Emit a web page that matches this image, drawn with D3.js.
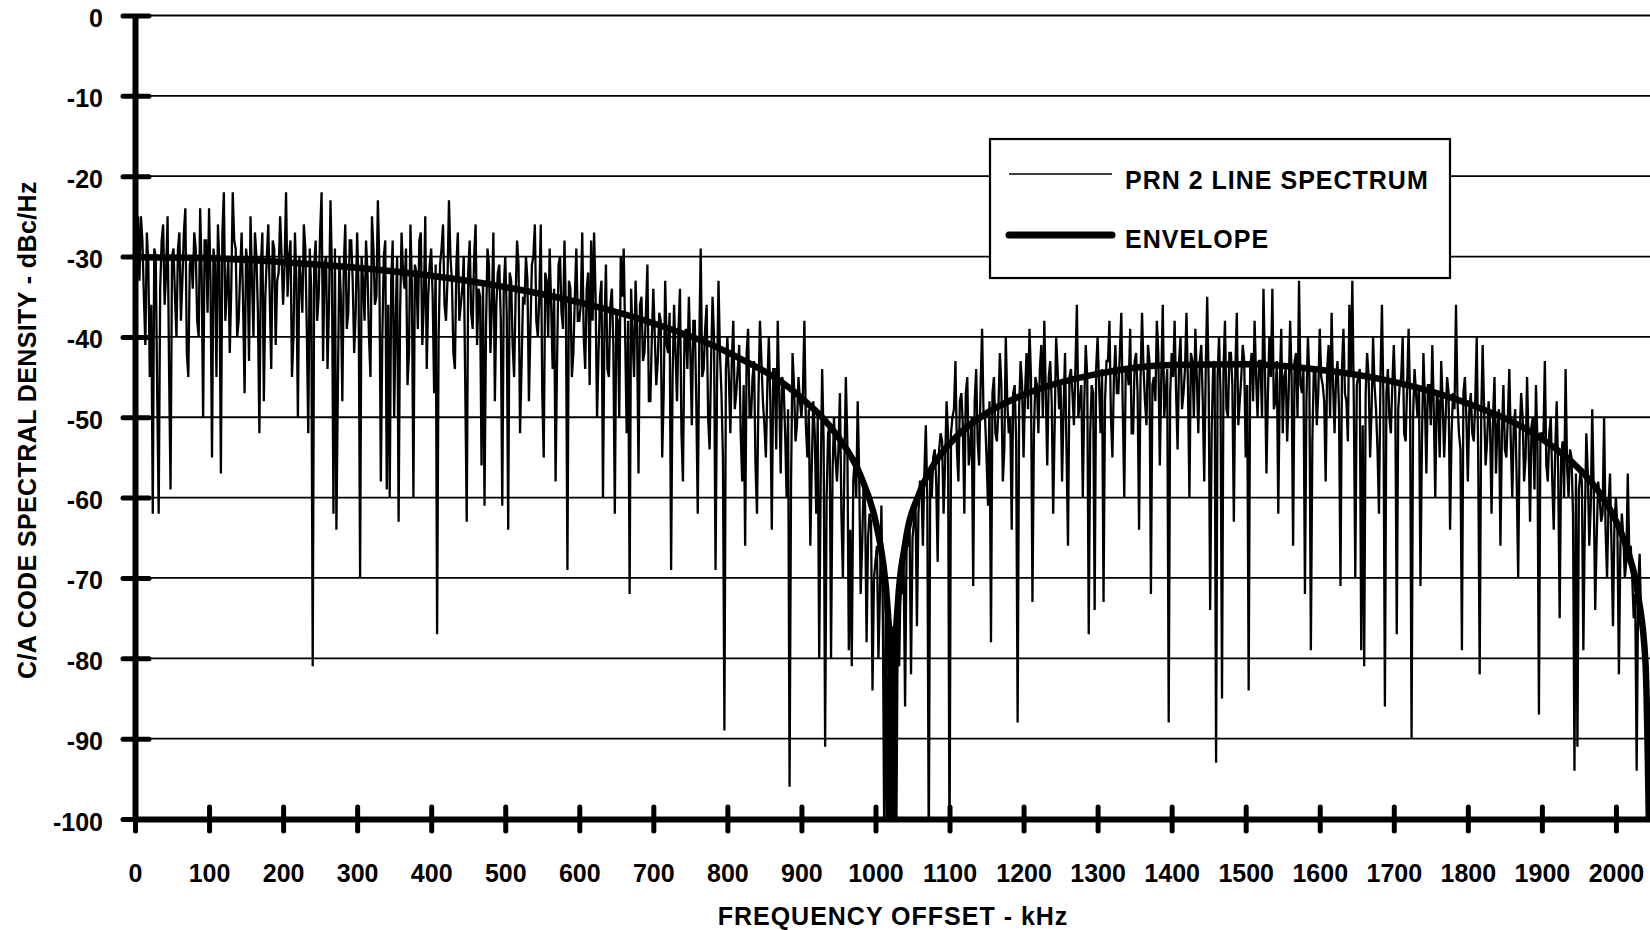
<!DOCTYPE html>
<html>
<head>
<meta charset="utf-8">
<script src="https://cdn.jsdelivr.net/npm/d3@7"></script>
<style>
body{margin:0;background:#fff;}
svg{display:block;font-family:"Liberation Sans",Arial,sans-serif;font-weight:bold;}
</style>
</head>
<body>
<script>
var yTicks=[0,-10,-20,-30,-40,-50,-60,-70,-80,-90,-100];
var xTicks=[0,100,200,300,400,500,600,700,800,900,1000,1100,1200,1300,1400,1500,1600,1700,1800,1900,2000];

// line spectrum (dB). lines at 0,4,8.. kHz, main lobe 0..1020
var lineStep=4;
var mainLobeDb=[
-44,-25,-25,-35,-27,-45,-62,-30,-62,-28,-36,-25,-59,-29,-40,-27,-33,-24,-45,-30,-27,-38,-24,-50,-28,
-24,-55,-31,-26,-57,-22,-34,-42,-22,-29,-38,-27,-47,-31,-25,-40,-30,-52,-27,-35,-26,-44,-29,-33,-25,
-36,-22,-30,-45,-27,-50,-33,-26,-39,-29,-81,-28,-35,-22,-31,-44,-23,-62,-64,-30,-48,-26,-37,-28,-42,
-27,-70,-33,-28,-40,-25,-36,-23,-58,-30,-59,-60,-28,-38,-63,-27,-34,-46,-26,-60,-32,-28,-41,-25,-35,
-29,-47,-77,-31,-26,-38,-23,-33,-44,-27,-36,-30,-63,-28,-39,-26,-34,-56,-61,-29,-42,-27,-36,-31,-61,
-30,-64,-33,-45,-28,-52,-35,-30,-48,-31,-26,-40,-26,-55,-33,-29,-44,-58,-31,-37,-28,-69,-34,-42,-29,
-38,-27,-44,-32,-28,-27,-50,-35,-60,-31,-45,-34,-62,-38,-30,-29,-52,-72,-40,-33,-57,-35,-42,-31,-48,
-34,-46,-37,-55,-33,-42,-69,-36,-48,-34,-58,-39,-35,-51,-38,-62,-29,-44,-36,-54,-35,-69,-33,-47,-89,
-40,-52,-38,-47,-41,-58,-66,-39,-50,-43,-62,-38,-48,-55,-40,-64,-44,-38,-57,-46,-60,-96,-42,-53,-45,
-50,-38,-55,-66,-48,-62,-80,-44,-91,-52,-80,-50,-58,-47,-70,-45,-79,-81,-55,-48,-72,-58,-78,-62,-84,
-68,-80,-61,-105,-105,-105];
// side lobe 1024..2044 kHz
var sideLobeDb=[
-105,-105,-81,-72,-86,-66,-82,-63,-76,-58,-66,-51,-105,-60,-54,-68,-52,-62,-48,
-105,-50,-43,-58,-47,-62,-45,-54,-71,-44,-56,-39,-50,-61,-78,-45,-53,-42,-58,-40,-52,-64,-46,-88,-43,
-55,-42,-39,-73,-45,-52,-41,-38,-56,-43,-62,-40,-49,-58,-42,-66,-44,-51,-36,-48,-60,-41,-77,-46,-74,
-40,-52,-73,-43,-38,-55,-41,-47,-37,-60,-44,-39,-52,-42,-64,-37,-48,-41,-72,-45,-38,-56,-36,-47,-88,
-42,-38,-54,-40,-47,-37,-60,-43,-39,-52,-41,-58,-35,-74,-44,-93,-40,-85,-38,-50,-42,-63,-37,-48,-41,
-55,-84,-42,-38,-50,-43,-34,-57,-40,-34,-48,-62,-39,-45,-53,-38,-66,-42,-33,-47,-72,-40,-79,-44,-51,
-39,-46,-58,-41,-37,-52,-43,-71,-39,-48,-36,-33,-70,-45,-79,-81,-42,-55,-40,-49,-62,-36,-86,-44,-52,
-41,-77,-46,-40,-53,-39,-90,-44,-50,-71,-42,-57,-46,-41,-60,-48,-43,-55,-45,-64,-47,-36,-52,-79,-45,
-58,-47,-53,-40,-82,-41,-56,-48,-62,-45,-51,-66,-46,-55,-44,-60,-49,-70,-47,-58,-45,-63,-50,-46,-87,
-52,-43,-58,-50,-64,-48,-75,-53,-44,-60,-55,-94,-91,-57,-79,-52,-66,-49,-74,-58,-63,-50,-70,-57,-76,
-60,-82,-62,-70,-57,-66,-75,-94,-67,-78,-85,-105];
// lines in between, at 2,6,10.. kHz
var mainLobeMidDb=[
-30,-33,-28,-41,-31,-36,-29,-47,-34,-26,-32,-44,-30,-35,-29,-38,-27,-42,-31,-34,-29,-40,-32,-28,-37,
-33,-29,-45,-31,-27,-38,-30,-34,-28,-40,-32,-36,-29,-43,-33,-27,-37,-31,-48,-30,-35,-28,-41,-32,-30,
-31,-35,-28,-40,-33,-30,-37,-29,-52,-34,-31,-38,-27,-43,-30,-36,-32,-29,-46,-35,-31,-39,-28,-33,-37,
-34,-30,-38,-32,-45,-29,-35,-31,-40,-28,-36,-33,-50,-30,-37,-32,-29,-42,-34,-31,-39,-27,-36,-44,-31,
-35,-31,-40,-29,-36,-33,-30,-42,-31,-38,-34,-46,-32,-37,-30,-41,-35,-33,-39,-31,-36,-48,-32,-38,-34,
-37,-32,-41,-35,-31,-44,-36,-33,-39,-30,-38,-35,-47,-32,-40,-36,-34,-43,-30,-39,-37,-33,-45,-35,-38,
-36,-40,-34,-46,-38,-35,-42,-33,-39,-44,-36,-41,-37,-50,-35,-40,-38,-34,-45,-39,-36,-43,-37,-48,-40,
-40,-43,-38,-47,-41,-37,-45,-42,-39,-52,-40,-44,-42,-38,-48,-41,-45,-39,-50,-43,-40,-46,-42,-55,-44,
-45,-43,-49,-44,-52,-46,-42,-50,-45,-56,-47,-43,-51,-46,-48,-44,-54,-47,-45,-52,-49,-58,-46,-51,-48,
-47,-51,-49,-56,-52,-50,-58,-53,-60,-51,-57,-55,-54,-62,-56,-53,-64,-58,-60,-57,-66,-61,-65,-63,-70,
-66,-72,-75,-70,-82,-76];
var sideLobeMidDb=[
-80,-76,-70,-68,-66,-63,-65,-60,-62,-58,-57,-60,-56,-55,-58,-54,-53,-56,-52,
-52,-49,-54,-48,-51,-47,-56,-50,-48,-53,-46,-50,-55,-48,-47,-52,-49,-46,-54,-48,-50,-47,-53,-49,-46,
-47,-49,-45,-52,-46,-44,-50,-47,-45,-48,-51,-44,-46,-49,-54,-45,-47,-44,-50,-46,-48,-45,-52,-47,-44,
-46,-44,-48,-43,-50,-45,-47,-42,-49,-44,-46,-52,-43,-47,-45,-44,-51,-43,-46,-48,-42,-45,-50,-44,-47,
-45,-47,-43,-49,-44,-46,-42,-50,-45,-43,-48,-44,-46,-52,-43,-45,-47,-44,-49,-42,-46,-44,-51,-45,-43,
-46,-44,-48,-45,-43,-50,-44,-47,-45,-49,-43,-46,-52,-44,-47,-45,-43,-50,-46,-44,-48,-45,-53,-44,-47,
-45,-48,-44,-50,-46,-45,-49,-44,-47,-53,-45,-48,-46,-44,-51,-47,-45,-49,-46,-54,-45,-48,-47,-50,-46,
-47,-49,-45,-52,-46,-48,-50,-47,-46,-53,-48,-46,-51,-49,-47,-55,-48,-50,-47,-52,-49,-48,-54,-47,-50,
-49,-52,-48,-55,-50,-49,-53,-51,-50,-57,-49,-52,-54,-50,-53,-51,-58,-52,-50,-55,-53,-51,-59,-53,-52,
-53,-56,-52,-58,-54,-57,-55,-60,-56,-54,-62,-57,-59,-58,-63,-57,-61,-59,-65,-60,-62,-64,-61,-66,-63,
-64,-66,-65,-68,-67,-70,-72,-71,-75,-78,-82,-105];

// envelope
var envFreq=[0,100,200,300,400,500,600,700,800,900,950,980,1000,1010,1016,1020,1023,1026,1030,1040,1060,1080,1100,1150,1200,1300,1400,1500,1600,1700,1800,1900,1950,1980,2000,2015,2030,2040,2046];
var envDb=[-30.1,-30.2,-30.7,-31.4,-32.4,-33.8,-35.7,-38.3,-41.9,-47.6,-52.5,-57.3,-62.9,-67.9,-73.3,-80.7,-110,-80.8,-73.5,-65.8,-59.3,-55.7,-53.3,-49.5,-47.2,-44.6,-43.5,-43.4,-44.1,-45.6,-48.3,-52.7,-56.4,-59.7,-62.9,-66.4,-72.2,-80.7,-110];

var legendLabels=['PRN 2 LINE SPECTRUM','ENVELOPE'];
var xTitle='FREQUENCY OFFSET - kHz',yTitle='C/A CODE SPECTRAL DENSITY - dBc/Hz';

var width=1650,height=930,left=135,plotTop=15.5,bottom=819;
var font='"Liberation Sans",Arial,sans-serif';
var svg=d3.select('body').append('svg').attr('width',width).attr('height',height);
var x=d3.scaleLinear().domain([0,2046]).range([left,width]);
var y=d3.scaleLinear().domain([-100,0]).range([bottom,plotTop]);

svg.append('clipPath').attr('id','plot').append('rect')
	.attr('x',left).attr('y',plotTop-2).attr('width',width-left).attr('height',bottom-plotTop+2);

// grid
svg.append('g').selectAll('line').data(yTicks).enter().append('line')
	.attr('x1',left).attr('x2',width).attr('y1',function(d){return y(d);}).attr('y2',function(d){return y(d);})
	.attr('stroke','#000').attr('stroke-width',1.8);

var lines=mainLobeDb.concat(sideLobeDb),mids=mainLobeMidDb.concat(sideLobeMidDb);
var spectrum=[];
lines.forEach(function(v,i){
	spectrum.push([i*lineStep,v]);
	spectrum.push([i*lineStep+lineStep/2,mids[i]]);
});
var line=d3.line().x(function(d){return x(d[0]);}).y(function(d){return y(d[1]);});
var plot=svg.append('g').attr('clip-path','url(#plot)');
plot.append('path').attr('d',line(spectrum)).attr('fill','none').attr('stroke','#000').attr('stroke-width',2.3).attr('stroke-linejoin','miter').attr('stroke-miterlimit',2);

var env=d3.line().curve(d3.curveMonotoneX).x(function(d){return x(d);}).y(function(d,i){return y(envDb[i]);});
plot.append('path').attr('d',env(envFreq)).attr('fill','none').attr('stroke','#000').attr('stroke-width',6.5).attr('stroke-linejoin','round');

// axes
var plain=function(d){return String(d);};
var ya=svg.append('g').attr('transform','translate('+left+',0)')
	.call(d3.axisLeft(y).tickValues(yTicks).tickFormat(plain).tickSize(12).tickSizeOuter(0));
ya.select('.domain').attr('stroke-width',6);
ya.selectAll('.tick line').attr('x1',-12).attr('x2',14).attr('stroke-width',5).attr('stroke-linecap','round');
ya.selectAll('.tick text').attr('x',-32).attr('dy',0).attr('y',11).attr('fill','#000')
	.style('font-size','25px').style('font-family',font).style('font-weight','bold');

var xa=svg.append('g').attr('transform','translate(0,'+bottom+')')
	.call(d3.axisBottom(x).tickValues(xTicks).tickFormat(plain).tickSize(12).tickSizeOuter(0));
xa.select('.domain').attr('stroke-width',6);
xa.selectAll('.tick line').attr('y1',-12).attr('y2',12).attr('stroke-width',5).attr('stroke-linecap','round');
xa.selectAll('.tick text').attr('y',63).attr('dy',0).attr('fill','#000')
	.style('font-size','25px').style('font-family',font).style('font-weight','bold');

svg.append('text').text(xTitle).attr('x',893).attr('y',925).attr('text-anchor','middle')
	.style('font-size','25px').style('letter-spacing','1px');
svg.append('text').text(yTitle).attr('transform','translate(36,430) rotate(-90)').attr('text-anchor','middle')
	.style('font-size','25px').style('letter-spacing','0.4px');

// legend
var lg=svg.append('g');
lg.append('rect').attr('x',990).attr('y',139).attr('width',460).attr('height',139).attr('fill','#fff').attr('stroke','#000').attr('stroke-width',2.2);
var items=lg.selectAll('g.item').data(legendLabels).enter().append('g').attr('class','item')
	.attr('transform',function(d,i){return 'translate(0,'+(174+i*61)+')';});
items.append('line').attr('x1',1009).attr('x2',1112).attr('y1',0).attr('y2',0).attr('stroke','#000')
	.attr('stroke-width',function(d,i){return i?7:1.5;}).attr('stroke-linecap',function(d,i){return i?'round':'butt';});
items.append('text').text(function(d){return d;}).attr('x',1125).attr('y',function(d,i){return i?13:15;})
	.style('font-size','25px').style('letter-spacing','1px');
</script>
</body>
</html>
